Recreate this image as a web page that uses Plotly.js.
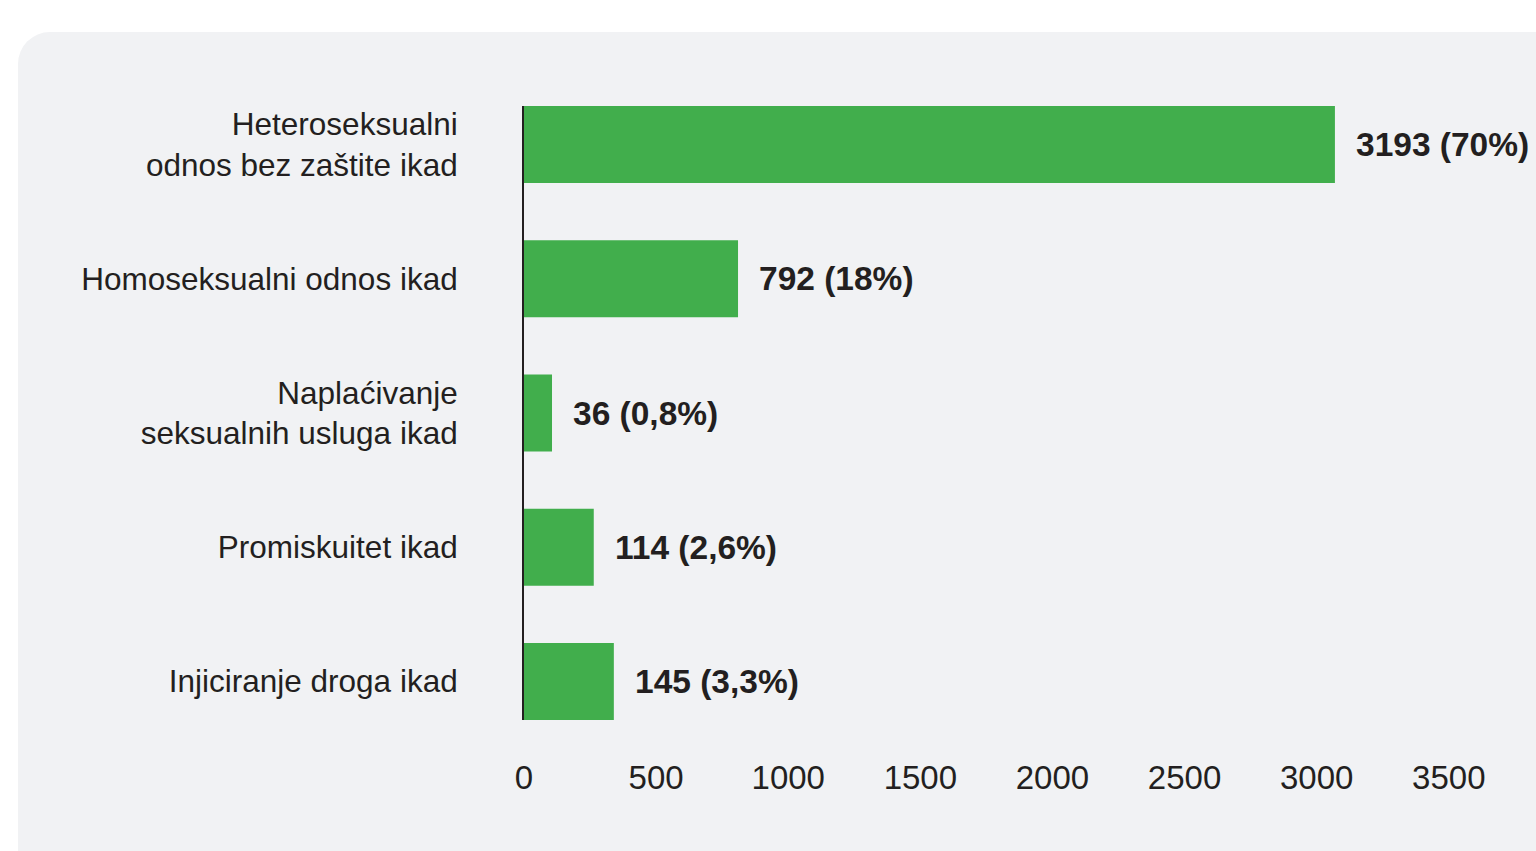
<!DOCTYPE html>
<html>
<head>
<meta charset="utf-8">
<script src="https://cdn.plot.ly/plotly-3.0.1.min.js"></script>
<style>
  html, body { margin: 0; padding: 0; width: 1536px; height: 851px; overflow: hidden; background: #ffffff; }
  #panel { position: absolute; left: 18px; top: 32px; width: 1600px; height: 900px; border-radius: 32px; background: #f1f2f4; }
  #chart { position: absolute; left: 0; top: 0; width: 1536px; height: 851px; }
</style>
</head>
<body>
<div id="panel"></div>
<div id="chart"></div>
<script>
// Categories (top to bottom)
const categories = [
  "Heteroseksualni<br>odnos bez zaštite ikad",
  "Homoseksualni odnos ikad",
  "Naplaćivanje<br>seksualnih usluga ikad",
  "Promiskuitet ikad",
  "Injiciranje droga ikad"
];
// Bar lengths as drawn in the reference (read against the x axis)
const barLengths = [3069, 810, 106, 264, 340];
// Printed value labels
const counts = [3193, 792, 36, 114, 145];
const percents = ["70%", "18%", "0,8%", "2,6%", "3,3%"];
// Axis ticks
const xTicks = [0, 500, 1000, 1500, 2000, 2500, 3000, 3500];

const labels = counts.map((c, i) => c + " (" + percents[i] + ")");
const FONT = "Liberation Sans, Arial, Helvetica, sans-serif";

const trace = {
  type: "bar",
  orientation: "h",
  y: categories,
  x: barLengths,
  marker: { color: "#41ae4c", line: { width: 0 } },
  hoverinfo: "none"
};

const annotations = categories.map((cat, i) => ({
  x: barLengths[i],
  y: cat,
  xref: "x",
  yref: "y",
  text: labels[i],
  showarrow: false,
  xanchor: "left",
  yanchor: "middle",
  xshift: 20,
  borderpad: 0,
  font: { family: FONT, size: 33.5, color: "#231f20", weight: "bold" }
}));

const layout = {
  width: 1536,
  height: 851,
  margin: { l: 524, r: 0, t: 106, b: 131, pad: 0 },
  paper_bgcolor: "rgba(0,0,0,0)",
  plot_bgcolor: "rgba(0,0,0,0)",
  bargap: 0.4254,
  showlegend: false,
  xaxis: {
    range: [0, 3830],
    tickvals: xTicks,
    ticktext: xTicks.map(String),
    showgrid: false,
    zeroline: false,
    showline: false,
    ticks: "",
    ticklabelstandoff: 35,
    tickfont: { family: FONT, size: 33, color: "#231f20" },
    fixedrange: true
  },
  yaxis: {
    type: "category",
    range: [4.2873, -0.2873],
    showgrid: false,
    zeroline: false,
    showline: true,
    linecolor: "#231f20",
    linewidth: 2,
    ticks: "",
    ticklabelstandoff: 58,
    tickfont: { family: FONT, size: 31.5, color: "#231f20" },
    fixedrange: true
  },
  annotations: annotations
};

Plotly.newPlot("chart", [trace], layout, { displayModeBar: false, staticPlot: true });
</script>
</body>
</html>
